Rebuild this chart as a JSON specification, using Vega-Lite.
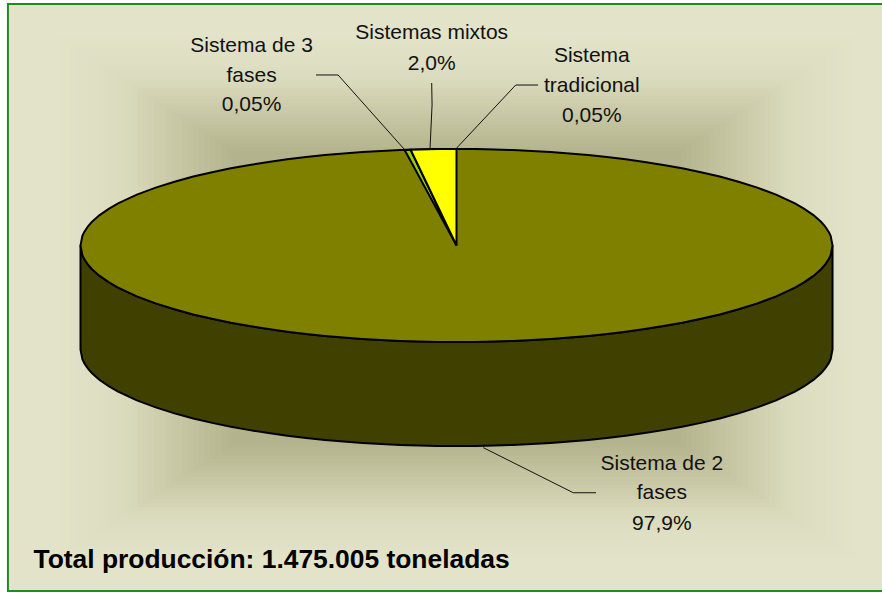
{"$schema":"https://vega.github.io/schema/vega-lite/v6.json","width":882,"height":593,"padding":0,"autosize":{"type":"none"},"background":"#ffffff","view":{"stroke":null},
"datasets":{
"gradient":[
{"f":1.0,"l":-119.15,"r":119.15,"t":250.2,"b":-358.0},{"f":0.95,"l":-113.19,"r":113.19,"t":235.0,"b":-342.8},{"f":0.9,"l":-107.24,"r":107.24,"t":219.8,"b":-327.6},{"f":0.8875,"l":-105.75,"r":105.75,"t":216.0,"b":-323.8},{"f":0.875,"l":-104.26,"r":104.26,"t":212.2,"b":-320.0},{"f":0.8625,"l":-102.77,"r":102.77,"t":208.4,"b":-316.2},{"f":0.85,"l":-101.28,"r":101.28,"t":204.6,"b":-312.4},{"f":0.8375,"l":-99.79,"r":99.79,"t":200.8,"b":-308.6},{"f":0.825,"l":-98.3,"r":98.3,"t":197.0,"b":-304.8},{"f":0.8125,"l":-96.81,"r":96.81,"t":193.2,"b":-301.0},{"f":0.8,"l":-95.32,"r":95.32,"t":189.4,"b":-297.2},{"f":0.7875,"l":-93.83,"r":93.83,"t":185.6,"b":-293.4},{"f":0.775,"l":-92.34,"r":92.34,"t":181.8,"b":-289.6},{"f":0.7625,"l":-90.85,"r":90.85,"t":178.0,"b":-285.8},{"f":0.75,"l":-89.36,"r":89.36,"t":174.2,"b":-282.0},{"f":0.7375,"l":-87.87,"r":87.87,"t":170.4,"b":-278.2},{"f":0.725,"l":-86.38,"r":86.38,"t":166.6,"b":-274.4},{"f":0.7125,"l":-84.89,"r":84.89,"t":162.8,"b":-270.6},{"f":0.7,"l":-83.41,"r":83.41,"t":159.0,"b":-266.8},{"f":0.6875,"l":-81.92,"r":81.92,"t":155.2,"b":-263.0},{"f":0.675,"l":-80.43,"r":80.43,"t":151.4,"b":-259.2},{"f":0.6625,"l":-78.94,"r":78.94,"t":147.6,"b":-255.4},{"f":0.65,"l":-77.45,"r":77.45,"t":143.8,"b":-251.6},{"f":0.6375,"l":-75.96,"r":75.96,"t":140.0,"b":-247.8},{"f":0.625,"l":-74.47,"r":74.47,"t":136.2,"b":-244.0},{"f":0.6125,"l":-72.98,"r":72.98,"t":132.4,"b":-240.2},{"f":0.6,"l":-71.49,"r":71.49,"t":128.6,"b":-236.4},{"f":0.5875,"l":-70.0,"r":70.0,"t":124.8,"b":-232.6},{"f":0.575,"l":-68.51,"r":68.51,"t":121.0,"b":-228.8},{"f":0.5625,"l":-67.02,"r":67.02,"t":117.2,"b":-225.0},{"f":0.55,"l":-65.53,"r":65.53,"t":113.4,"b":-221.2},{"f":0.5375,"l":-64.04,"r":64.04,"t":109.6,"b":-217.4},{"f":0.525,"l":-62.55,"r":62.55,"t":105.8,"b":-213.6},{"f":0.5125,"l":-61.06,"r":61.06,"t":102.0,"b":-209.8},{"f":0.5,"l":-59.58,"r":59.58,"t":98.2,"b":-206.0},{"f":0.475,"l":-56.6,"r":56.6,"t":90.5,"b":-198.3},{"f":0.45,"l":-53.6,"r":53.6,"t":83.0,"b":-190.7}],
"frame":[{"l":-119.3,"r":119.0,"t":250.3,"b":-358.0}],
"pie":[
{"u":-100,"top":0,"mid":0,"low":-107.8},{"u":-99.5,"top":9.99,"mid":-9.99,"low":-117.79},{"u":-99,"top":14.11,"mid":-14.11,"low":-121.91},{"u":-98,"top":19.9,"mid":-19.9,"low":-127.7},{"u":-97,"top":24.31,"mid":-24.31,"low":-132.11},{"u":-95,"top":31.22,"mid":-31.22,"low":-139.02},{"u":-92.5,"top":38.0,"mid":-38.0,"low":-145.8},{"u":-90,"top":43.59,"mid":-43.59,"low":-151.39},{"u":-85,"top":52.68,"mid":-52.68,"low":-160.48},{"u":-80,"top":60,"mid":-60,"low":-167.8},{"u":-75,"top":66.14,"mid":-66.14,"low":-173.94},{"u":-70,"top":71.41,"mid":-71.41,"low":-179.21},{"u":-65,"top":75.99,"mid":-75.99,"low":-183.79},{"u":-60,"top":80,"mid":-80,"low":-187.8},{"u":-55,"top":83.52,"mid":-83.52,"low":-191.32},{"u":-50,"top":86.6,"mid":-86.6,"low":-194.4},{"u":-45,"top":89.3,"mid":-89.3,"low":-197.1},{"u":-40,"top":91.65,"mid":-91.65,"low":-199.45},{"u":-35,"top":93.67,"mid":-93.67,"low":-201.47},{"u":-30,"top":95.39,"mid":-95.39,"low":-203.19},{"u":-25,"top":96.82,"mid":-96.82,"low":-204.62},{"u":-20,"top":97.98,"mid":-97.98,"low":-205.78},{"u":-15,"top":98.87,"mid":-98.87,"low":-206.67},{"u":-10,"top":99.5,"mid":-99.5,"low":-207.3},{"u":-5,"top":99.87,"mid":-99.87,"low":-207.67},{"u":0,"top":100,"mid":-100,"low":-207.8},{"u":5,"top":99.87,"mid":-99.87,"low":-207.67},{"u":10,"top":99.5,"mid":-99.5,"low":-207.3},{"u":15,"top":98.87,"mid":-98.87,"low":-206.67},{"u":20,"top":97.98,"mid":-97.98,"low":-205.78},{"u":25,"top":96.82,"mid":-96.82,"low":-204.62},{"u":30,"top":95.39,"mid":-95.39,"low":-203.19},{"u":35,"top":93.67,"mid":-93.67,"low":-201.47},{"u":40,"top":91.65,"mid":-91.65,"low":-199.45},{"u":45,"top":89.3,"mid":-89.3,"low":-197.1},{"u":50,"top":86.6,"mid":-86.6,"low":-194.4},{"u":55,"top":83.52,"mid":-83.52,"low":-191.32},{"u":60,"top":80,"mid":-80,"low":-187.8},{"u":65,"top":75.99,"mid":-75.99,"low":-183.79},{"u":70,"top":71.41,"mid":-71.41,"low":-179.21},{"u":75,"top":66.14,"mid":-66.14,"low":-173.94},{"u":80,"top":60,"mid":-60,"low":-167.8},{"u":85,"top":52.68,"mid":-52.68,"low":-160.48},{"u":90,"top":43.59,"mid":-43.59,"low":-151.39},{"u":92.5,"top":38.0,"mid":-38.0,"low":-145.8},{"u":95,"top":31.22,"mid":-31.22,"low":-139.02},{"u":97,"top":24.31,"mid":-24.31,"low":-132.11},{"u":98,"top":19.9,"mid":-19.9,"low":-127.7},{"u":99,"top":14.11,"mid":-14.11,"low":-121.91},{"u":99.5,"top":9.99,"mid":-9.99,"low":-117.79},{"u":100,"top":0,"mid":0,"low":-107.8}],
"sliver":[{"u":-13.8,"v":99.05,"w":99.05},{"u":-12.2,"v":99.25,"w":87.56},{"u":0,"v":0,"w":0}],
"mixtos":[{"u":-12.2,"v":99.25,"w":99.25},{"u":-10,"v":99.5,"w":81.35},{"u":-5,"v":99.87,"w":40.68},{"u":0,"v":100,"w":0}],
"leaders":[
{"id":"mixtos","o":1,"u":-6.6,"v":168.4},{"id":"mixtos","o":2,"u":-6.5,"v":145.6},{"id":"mixtos","o":3,"u":-7.05,"v":100},
{"id":"trad","o":1,"u":-0.2,"v":100},{"id":"trad","o":2,"u":15.75,"v":166.3},{"id":"trad","o":3,"u":21.7,"v":166.3},
{"id":"tres","o":1,"u":-37.37,"v":176.7},{"id":"tres","o":2,"u":-31.5,"v":176.7},{"id":"tres","o":3,"u":-13.96,"v":100},
{"id":"dos","o":1,"u":7.13,"v":-209.5},{"id":"dos","o":2,"u":31.06,"v":-256.2},{"id":"dos","o":3,"u":37.1,"v":-256.2}],
"labels":[
{"u":-54.5,"v":200.8,"t":"Sistema de 3"},{"u":-54.5,"v":169.7,"t":"fases"},{"u":-54.5,"v":139.4,"t":"0,05%"},
{"u":-6.6,"v":213.7,"t":"Sistemas mixtos"},{"u":-6.6,"v":181.9,"t":"2,0%"},
{"u":35.99,"v":190.2,"t":"Sistema"},{"u":35.99,"v":159.1,"t":"tradicional"},{"u":35.99,"v":128.0,"t":"0,05%"},
{"u":54.6,"v":-232.6,"t":"Sistema de 2"},{"u":54.6,"v":-263,"t":"fases"},{"u":54.6,"v":-294.8,"t":"97,9%"}],
"total":[{"u":-112.5,"v":-333.9,"t":"Total producción: 1.475.005 toneladas"}]
},
"layer":[
{"data":{"name":"gradient"},"mark":{"type":"rect"},"encoding":{
"x":{"field":"l","type":"quantitative","axis":null,"scale":{"domain":[-121.41,113.16],"nice":false,"zero":false}},"x2":{"field":"r"},
"y":{"field":"b","type":"quantitative","axis":null,"scale":{"domain":[-360.1,254.4],"nice":false,"zero":false}},"y2":{"field":"t"},
"color":{"field":"f","type":"quantitative","legend":null,"scale":{"domain":[0.5,0.62,0.73,0.8,0.9],"range":["#b3b38d","#c6c6a3","#d8d8ba","#dedec3","#e3e3c9"],"clamp":true}}}},
{"data":{"name":"frame"},"mark":{"type":"rect","fill":null,"fillOpacity":0,"stroke":"#1e8c1e","strokeWidth":2},"encoding":{
"x":{"field":"l","type":"quantitative"},"x2":{"field":"r"},"y":{"field":"b","type":"quantitative"},"y2":{"field":"t"}}},
{"data":{"name":"pie"},"mark":{"type":"area","fill":"#404000","stroke":"#000000","strokeWidth":2},"encoding":{
"x":{"field":"u","type":"quantitative"},"y":{"field":"low","type":"quantitative"},"y2":{"field":"mid"}}},
{"data":{"name":"pie"},"mark":{"type":"area","fill":"#808000","stroke":"#000000","strokeWidth":2},"encoding":{
"x":{"field":"u","type":"quantitative"},"y":{"field":"mid","type":"quantitative"},"y2":{"field":"top"}}},
{"data":{"name":"sliver"},"mark":{"type":"area","fill":"#99cc00","stroke":"#000000","strokeWidth":2},"encoding":{
"x":{"field":"u","type":"quantitative"},"y":{"field":"w","type":"quantitative"},"y2":{"field":"v"}}},
{"data":{"name":"mixtos"},"mark":{"type":"area","fill":"#ffff00","stroke":"#000000","strokeWidth":2},"encoding":{
"x":{"field":"u","type":"quantitative"},"y":{"field":"w","type":"quantitative"},"y2":{"field":"v"}}},
{"data":{"name":"leaders"},"mark":{"type":"line","color":"#111111","strokeWidth":1},"encoding":{
"x":{"field":"u","type":"quantitative"},"y":{"field":"v","type":"quantitative"},"detail":{"field":"id"},"order":{"field":"o","type":"quantitative"}}},
{"data":{"name":"labels"},"mark":{"type":"text","font":"Liberation Sans","fontSize":21,"color":"#111111","align":"center","baseline":"alphabetic"},"encoding":{
"x":{"field":"u","type":"quantitative"},"y":{"field":"v","type":"quantitative"},"text":{"field":"t"}}},
{"data":{"name":"total"},"mark":{"type":"text","font":"Liberation Sans","fontSize":26.4,"fontWeight":"bold","color":"#000000","align":"left","baseline":"alphabetic"},"encoding":{
"x":{"field":"u","type":"quantitative"},"y":{"field":"v","type":"quantitative"},"text":{"field":"t"}}}
]}
